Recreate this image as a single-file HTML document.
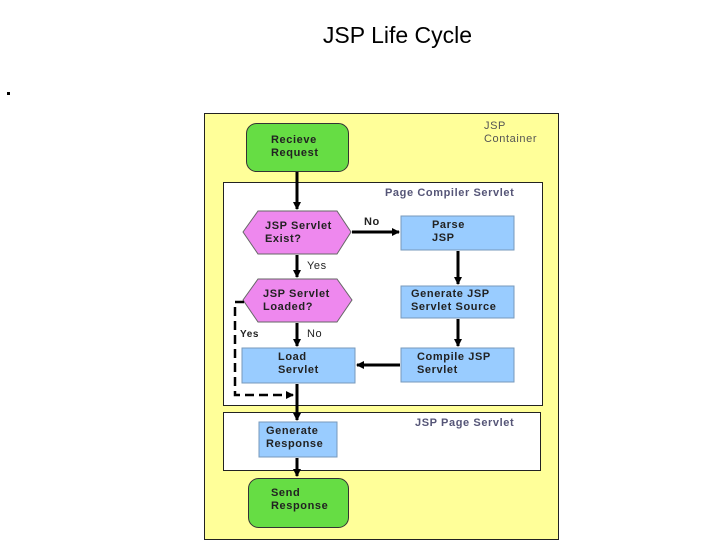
<!DOCTYPE html>
<html><head><style>
body{margin:0;width:720px;height:540px;background:#fff;position:relative;overflow:hidden;font-family:"Liberation Sans",sans-serif}
.t{position:absolute;font-weight:bold;font-size:11px;line-height:13px;color:#222;letter-spacing:0.6px}
</style></head><body>
<div style="position:absolute;left:0;width:795px;top:22px;text-align:center;font-size:23px;color:#000">JSP Life Cycle</div>
<div style="position:absolute;left:7px;top:92px;width:3px;height:3px;background:#000"></div>
<svg width="720" height="540" style="position:absolute;left:0;top:0">
<defs><marker id="a" markerWidth="8" markerHeight="8" refX="7" refY="4" orient="auto" markerUnits="userSpaceOnUse"><path d="M0,0L8,4L0,8z" fill="#000"/></marker></defs>
<rect x="204.5" y="113.5" width="354" height="426" fill="#ffff99" stroke="#222"/>
<rect x="223.5" y="182.5" width="319" height="223" fill="#fff" stroke="#222"/>
<rect x="223.5" y="412.5" width="317" height="58" fill="#fff" stroke="#222"/>
<rect x="246.5" y="123.5" width="102" height="48" rx="10" fill="#66dd44" stroke="#333"/>
<polygon points="243,232 258,211 337,211 351,232 337,254 258,254" fill="#ee88ee" stroke="#666"/>
<polygon points="243,300 258,279 337,279 352,300 337,322 258,322" fill="#ee88ee" stroke="#666"/>
<rect x="401" y="216" width="113" height="34" fill="#99ccff" stroke="#7799bb"/>
<rect x="401" y="286" width="113" height="32" fill="#99ccff" stroke="#7799bb"/>
<rect x="401" y="348" width="113" height="34" fill="#99ccff" stroke="#7799bb"/>
<rect x="242" y="348" width="113" height="35" fill="#99ccff" stroke="#7799bb"/>
<rect x="259" y="422" width="78" height="35" fill="#99ccff" stroke="#7799bb"/>
<rect x="248.5" y="478.5" width="100" height="49" rx="10" fill="#66dd44" stroke="#333"/>
<g stroke="#000" stroke-width="3" fill="none">
<line x1="297" y1="172" x2="297" y2="209" marker-end="url(#a)"/>
<line x1="297" y1="255" x2="297" y2="277" marker-end="url(#a)"/>
<line x1="297" y1="323" x2="297" y2="346" marker-end="url(#a)"/>
<line x1="297" y1="384" x2="297" y2="420" marker-end="url(#a)"/>
<line x1="297" y1="458" x2="297" y2="476" marker-end="url(#a)"/>
<line x1="352" y1="232" x2="399" y2="232" marker-end="url(#a)"/>
<line x1="458" y1="251" x2="458" y2="284" marker-end="url(#a)"/>
<line x1="458" y1="319" x2="458" y2="346" marker-end="url(#a)"/>
<line x1="400" y1="365" x2="357" y2="365" marker-end="url(#a)"/>
</g>
<polyline points="244,302 235,302 235,395 293,395" fill="none" stroke="#000" stroke-width="2.5" stroke-dasharray="9,5" marker-end="url(#a)"/>
</svg>
<div class="t" style="left:271px;top:134px">Recieve<br>Request</div>
<div class="t" style="left:484px;top:120px;font-weight:normal;color:#555">JSP<br>Container</div>
<div class="t" style="left:385px;top:187px;color:#555577">Page Compiler Servlet</div>
<div class="t" style="left:265px;top:220px">JSP Servlet<br>Exist?</div>
<div class="t" style="left:364px;top:216px">No</div>
<div class="t" style="left:432px;top:219px">Parse<br>JSP</div>
<div class="t" style="left:307px;top:260px;font-weight:normal">Yes</div>
<div class="t" style="left:263px;top:288px">JSP Servlet<br>Loaded?</div>
<div class="t" style="left:411px;top:288px">Generate JSP<br>Servlet Source</div>
<div class="t" style="left:240px;top:328px;font-size:10px">Yes</div>
<div class="t" style="left:307px;top:328px;font-weight:normal">No</div>
<div class="t" style="left:278px;top:351px">Load<br>Servlet</div>
<div class="t" style="left:417px;top:351px">Compile JSP<br>Servlet</div>
<div class="t" style="left:415px;top:417px;color:#555577">JSP Page Servlet</div>
<div class="t" style="left:266px;top:425px">Generate<br>Response</div>
<div class="t" style="left:271px;top:487px">Send<br>Response</div>
</body></html>
